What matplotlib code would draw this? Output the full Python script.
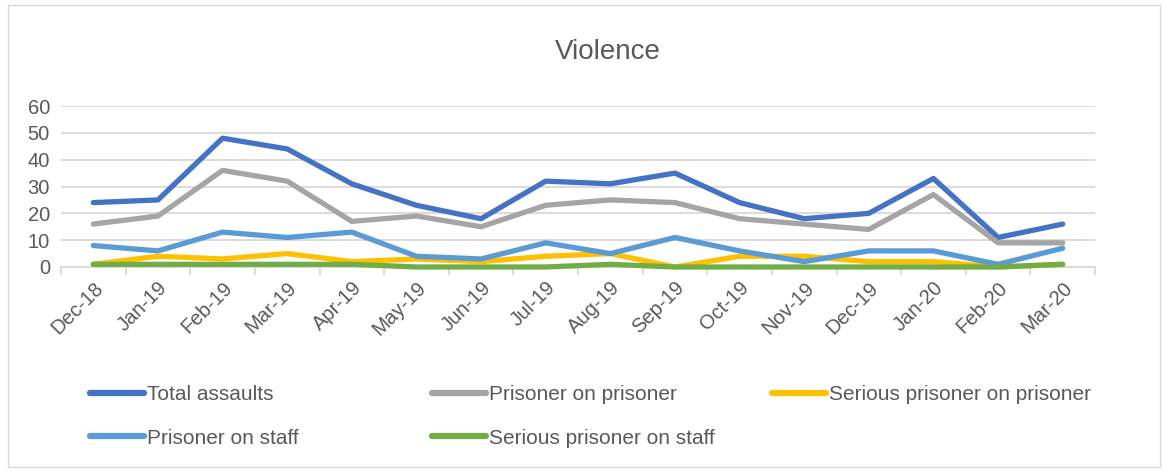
import matplotlib
matplotlib.use('Agg')
import matplotlib.pyplot as plt
from matplotlib.patches import Rectangle

plt.rcParams['font.family'] = ['Liberation Sans', 'DejaVu Sans']

# chart data
months = ['Dec-18', 'Jan-19', 'Feb-19', 'Mar-19', 'Apr-19', 'May-19', 'Jun-19', 'Jul-19',
          'Aug-19', 'Sep-19', 'Oct-19', 'Nov-19', 'Dec-19', 'Jan-20', 'Feb-20', 'Mar-20']
total_assaults = [24, 25, 48, 44, 31, 23, 18, 32, 31, 35, 24, 18, 20, 33, 11, 16]
prisoner_on_prisoner = [16, 19, 36, 32, 17, 19, 15, 23, 25, 24, 18, 16, 14, 27, 9, 9]
serious_pop = [1, 4, 3, 5, 2, 3, 2, 4, 5, 0, 4, 4, 2, 2, 0, 1]
prisoner_on_staff = [8, 6, 13, 11, 13, 4, 3, 9, 5, 11, 6, 2, 6, 6, 1, 7]
serious_pos = [1, 1, 1, 1, 1, 0, 0, 0, 1, 0, 0, 0, 0, 0, 0, 1]

series = [
    ('Total assaults', total_assaults, '#4472C4'),
    ('Prisoner on prisoner', prisoner_on_prisoner, '#A5A5A5'),
    ('Serious prisoner on prisoner', serious_pop, '#FFC000'),
    ('Prisoner on staff', prisoner_on_staff, '#5B9BD5'),
    ('Serious prisoner on staff', serious_pos, '#70AD47'),
]

TEXT_COLOR = '#595959'
GRID_COLOR = '#D9D9D9'
W, H = 1171, 471

fig = plt.figure(figsize=(W / 100, H / 100), dpi=100)
# outer chart border
fig.patches.append(Rectangle((8 / W, 4 / H), 1152 / W, 462 / H, transform=fig.transFigure,
                             fill=False, edgecolor=GRID_COLOR, linewidth=1))

ax = fig.add_axes([61 / W, (H - 267) / H, (1095 - 61) / W, (267 - 106) / H])

x = list(range(len(months)))
handles = []
for name, vals, col in series:
    ln, = ax.plot(x, vals, color=col, linewidth=3.8, label=name, solid_capstyle='round',
                  solid_joinstyle='round', clip_on=False, zorder=3)
    handles.append(ln)

ax.set_xlim(-0.5, len(months) - 0.5)
ax.set_ylim(0, 60)
ax.set_yticks(range(0, 61, 10))
ax.yaxis.grid(True, color=GRID_COLOR, linewidth=1.3)
ax.set_axisbelow(True)
for s in ['left', 'right', 'top']:
    ax.spines[s].set_visible(False)
ax.spines['bottom'].set_color(GRID_COLOR)
ax.spines['bottom'].set_linewidth(1.3)
ax.spines['bottom'].set_zorder(1)

# ticks between categories, labels at the points
ax.set_xticks([i - 0.5 for i in range(len(months) + 1)])
ax.set_xticklabels([])
ax.set_xticks(x, minor=True)
ax.set_xticklabels(months, minor=True, rotation=45, ha='right', rotation_mode='anchor',
                   fontsize=14.5, color=TEXT_COLOR)
ax.tick_params(axis='x', which='major', length=6, color=GRID_COLOR, width=1.3)
ax.tick_params(axis='x', which='minor', length=0, pad=8)
ax.tick_params(axis='y', length=0, labelsize=14.5, labelcolor=TEXT_COLOR, pad=8)

fig.text(608 / W, (H - 52) / H, 'Violence', ha='center', va='center', fontsize=20, color=TEXT_COLOR)

# legend laid out like the Excel one: 3 equal columns, 2 rows
col_x = [90, 432, 772]
row_y = [395, 438]
for i, h in enumerate(handles):
    cx = col_x[i % 3]
    cy = row_y[i // 3]
    lg = fig.legend(handles=[h], loc='center left', bbox_to_anchor=(cx / W, (H - cy) / H),
                    frameon=False, fontsize=15, handlelength=2.6, handletextpad=0.15,
                    borderaxespad=0, borderpad=0)
    for t in lg.get_texts():
        t.set_color(TEXT_COLOR)
    for l in lg.get_lines():
        l.set_linewidth(4.5)

fig.savefig('out.png', dpi=100)
